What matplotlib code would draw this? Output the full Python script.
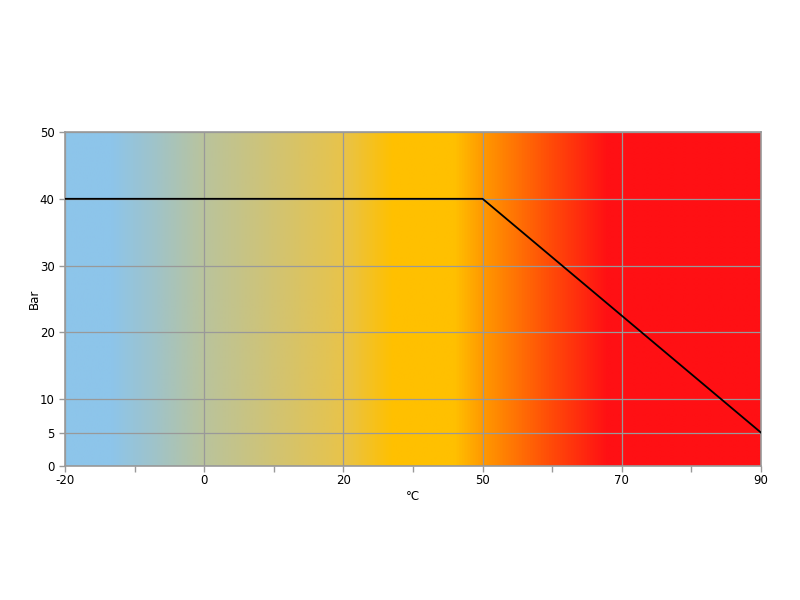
import numpy as np
import matplotlib
matplotlib.use("Agg")
import matplotlib.pyplot as plt
from matplotlib.colors import LinearSegmentedColormap

# Data
x_labels = [-20, 0, 20, 50, 70, 90]
y_ticks = [0, 5, 10, 20, 30, 40, 50]
line_temp = [-20, 50, 90]
line_bar = [40, 40, 5]

# gradient stops (fraction along axis, colour)
grad_stops = [
    (0.00, "#8DC5EA"),
    (0.065, "#8DC5EA"),
    (0.13, "#A0C3C8"),
    (0.20, "#BAC39C"),
    (0.40, "#E8C34A"),
    (0.47, "#FFC000"),
    (0.56, "#FFC000"),
    (0.60, "#FF9A00"),
    (0.70, "#FF4A08"),
    (0.78, "#FF1014"),
    (1.00, "#FF1014"),
]

fig = plt.figure(figsize=(8, 6), dpi=100)
ax = fig.add_axes([0.08125, 0.2233, 0.87, 0.5567])

pos = np.arange(len(x_labels))
cmap = LinearSegmentedColormap.from_list("bg", grad_stops)
grad = np.linspace(0, 1, 512).reshape(1, -1)
ax.imshow(grad, cmap=cmap, aspect="auto", extent=[pos[0], pos[-1], 0, 50],
          zorder=0, interpolation="bilinear")

line_x = np.interp(line_temp, x_labels, pos)
ax.plot(line_x, line_bar, color="black", lw=1.3, zorder=3)

ax.set_xlim(pos[0], pos[-1])
ax.set_ylim(0, 50)
ax.set_xticks(pos)
ax.set_xticklabels([str(v) for v in x_labels])
ax.set_xticks(pos[:-1] + 0.5, minor=True)
ax.set_yticks(y_ticks)

gc = "#999999"
ax.grid(True, which="major", color=gc, lw=0.9, zorder=1)
ax.set_axisbelow(False)
for s in ax.spines.values():
    s.set_color(gc)
    s.set_linewidth(1.2)
    s.set_zorder(2)
ax.tick_params(axis="both", which="both", colors=gc, labelcolor="black",
               labelsize=8.5, length=4, width=1.0)
ax.tick_params(axis="x", which="minor", length=4)
ax.tick_params(axis="x", pad=2)

ax.set_xlabel("°C", fontsize=8.5, labelpad=2)
ax.set_ylabel("Bar", fontsize=8.5, labelpad=-1)

fig.savefig("out.png", dpi=100)
